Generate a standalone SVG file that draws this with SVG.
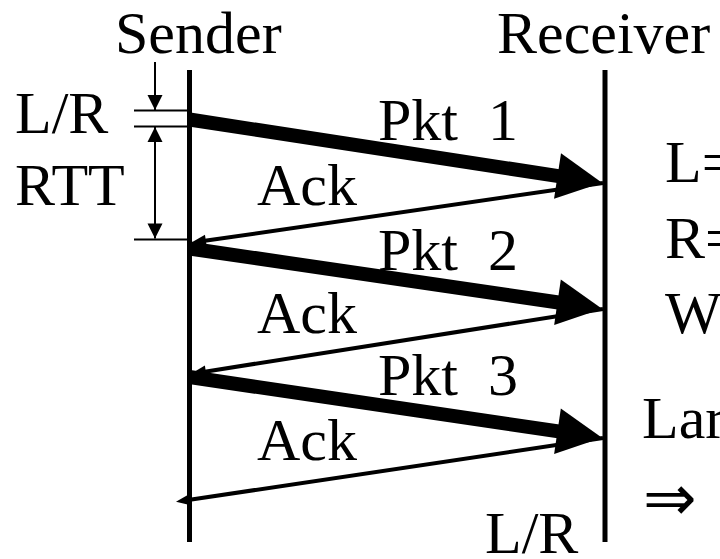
<svg xmlns="http://www.w3.org/2000/svg" width="720" height="559" viewBox="0 0 720 559">
<style>
text{font-family:"Liberation Serif","Times New Roman",serif;font-size:60px;fill:#000}
.life{stroke:#000;stroke-width:5;fill:none}
.tick{stroke:#000;stroke-width:2;fill:none}
.pkt{stroke:#000;stroke-width:14;fill:none}
.ack{stroke:#000;stroke-width:4;fill:none}
</style>
<defs>
<marker id="bigHead" viewBox="0 -23 45 46" refX="1" refY="0" markerWidth="45" markerHeight="46" markerUnits="userSpaceOnUse" orient="auto" overflow="visible">
<path d="M0,-23 L45,0 L0,23 z" fill="#000"/>
</marker>
<marker id="smallHead" viewBox="0 -6 15 12" refX="1" refY="0" markerWidth="15" markerHeight="12" markerUnits="userSpaceOnUse" orient="auto" overflow="visible">
<path d="M0,-6 L15,0 L0,6 z" fill="#000"/>
</marker>
<marker id="dimHead" viewBox="0 -7.5 15 15" refX="15" refY="0" markerWidth="15" markerHeight="15" markerUnits="userSpaceOnUse" orient="auto" overflow="visible">
<path d="M0,-7.5 L15,0 L0,7.5 z" fill="#000"/>
</marker>
<marker id="dimHeadStart" viewBox="0 -7.5 15 15" refX="15" refY="0" markerWidth="15" markerHeight="15" markerUnits="userSpaceOnUse" orient="auto-start-reverse" overflow="visible">
<path d="M0,-7.5 L15,0 L0,7.5 z" fill="#000"/>
</marker>
</defs>

<g id="sender">
<text x="115" y="53">Sender</text>
<line class="life" x1="189.5" y1="70" x2="189.5" y2="542"/>
</g>
<g id="receiver">
<text x="497" y="53">Receiver</text>
<line class="life" x1="605" y1="70" x2="605" y2="542"/>
</g>

<g id="timing">
<line class="tick" x1="134" y1="110.5" x2="189" y2="110.5"/>
<line class="tick" x1="134" y1="126.5" x2="189" y2="126.5"/>
<line class="tick" x1="134" y1="239.5" x2="189" y2="239.5"/>
<line class="tick" x1="155" y1="62" x2="155" y2="110" marker-end="url(#dimHead)"/>
<line class="tick" x1="155" y1="127" x2="155" y2="238.5" marker-start="url(#dimHeadStart)" marker-end="url(#dimHead)"/>
<text x="15" y="133">L/R</text>
<text x="15" y="205">RTT</text>
</g>

<g id="connectors">
<line class="pkt" x1="189.5" y1="119.5" x2="558.52" y2="176.16" marker-end="url(#bigHead)"/>
<line class="ack" x1="603" y1="183" x2="204.85" y2="240.84" marker-end="url(#smallHead)"/>
<line class="pkt" x1="189.5" y1="248.5" x2="558.48" y2="302.48" marker-end="url(#bigHead)"/>
<line class="ack" x1="603" y1="309" x2="204.82" y2="371.67" marker-end="url(#smallHead)"/>
<line class="pkt" x1="189.5" y1="377" x2="558.48" y2="431.42" marker-end="url(#bigHead)"/>
<line class="ack" x1="603" y1="438" x2="189.83" y2="499.78" marker-end="url(#smallHead)"/>
</g>

<g id="labels">
<text x="378" y="140" xml:space="preserve">Pkt  1</text>
<text x="257" y="205">Ack</text>
<text x="378" y="270" xml:space="preserve">Pkt  2</text>
<text x="257" y="333">Ack</text>
<text x="378" y="395" xml:space="preserve">Pkt  3</text>
<text x="257" y="460">Ack</text>
<text x="485" y="553">L/R</text>
</g>

<g id="notes">
<text x="665" y="182">L=</text>
<text x="665" y="258">R=</text>
<text x="665" y="333">W</text>
<text x="642" y="438">Lar</text>
<text x="643" y="520" style="font-family:'DejaVu Sans',sans-serif;font-size:64px">⇒</text>
</g>
</svg>
